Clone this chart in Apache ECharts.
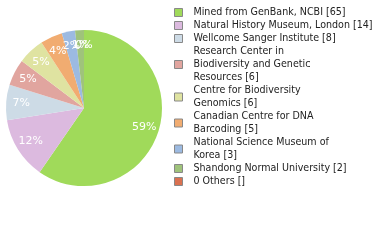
<!DOCTYPE html>
<html><head><meta charset="utf-8">
<script src="https://cdn.jsdelivr.net/npm/echarts@6/dist/echarts.min.js"></script>
<style>html,body{margin:0;padding:0;background:#fff}#c{width:380px;height:240px}</style>
</head><body><div id="c"></div>
<script>
const names = ["Mined from GenBank, NCBI","Natural History Museum, London","Wellcome Sanger Institute","Research Center in Biodiversity and Genetic Resources","Centre for Biodiversity Genomics","Canadian Centre for DNA Barcoding","National Science Museum of Korea","Shandong Normal University","0 Others"];
const values = [65,14,8,6,6,5,3,2,0];
const legendLabels = ["Mined from GenBank, NCBI [65]","Natural History Museum, London [14]","Wellcome Sanger Institute [8]","Research Center in\nBiodiversity and Genetic\nResources [6]","Centre for Biodiversity\nGenomics [6]","Canadian Centre for DNA\nBarcoding [5]","National Science Museum of\nKorea [3]","Shandong Normal University [2]","0 Others []"];
const colors = ["#a0da5a","#dcbadf","#cddbe6","#e1a59f","#dfe3a1","#f1ac71","#9cbae1","#9fc37b","#da7150"];
const total = values.reduce((a,b)=>a+b,0);
const data = names.map((n,i)=>({name:n,value:values[i]}));
const chart = echarts.init(document.getElementById('c'),null,{renderer:'canvas'});
const legendMap = {}; names.forEach((n,i)=>legendMap[n]=legendLabels[i]);
chart.setOption({
  animation:false,
  color:colors,
  legend:{
    orient:'vertical', left:174, top:6, padding:0, itemWidth:8, itemHeight:8, itemGap:0,
    icon:'rect', selectedMode:false,
    itemStyle:{borderColor:'#888',borderWidth:1},
    formatter:n=>legendMap[n],
    textStyle:{fontFamily:'"DejaVu Sans Condensed", "Liberation Sans", sans-serif',fontSize:10.6,color:'#222',lineHeight:13,padding:[0,0,0,6]},
    data:names
  },
  series:[
    {type:'pie',center:[84,108],radius:[0,78],startAngle:90,clockwise:true,data:data,
     label:{show:false},labelLine:{show:false},itemStyle:{borderWidth:0},silent:true,avoidLabelOverlap:false},
    {type:'pie',center:[84,108],radius:[42,78],startAngle:90,clockwise:true,data:data,
     itemStyle:{color:'rgba(0,0,0,0)',borderWidth:0},silent:true,avoidLabelOverlap:false,
     minShowLabelAngle:0, stillShowZeroSum:true, showEmptyCircle:false,
     labelLayout:{hideOverlap:false},
     label:{show:true,position:'inside',color:'#fff',fontFamily:'DejaVu Sans',fontSize:11,
       formatter:p=>Math.floor(p.value/total*100)+'%'},labelLine:{show:false}}
  ]
});
</script></body></html>
